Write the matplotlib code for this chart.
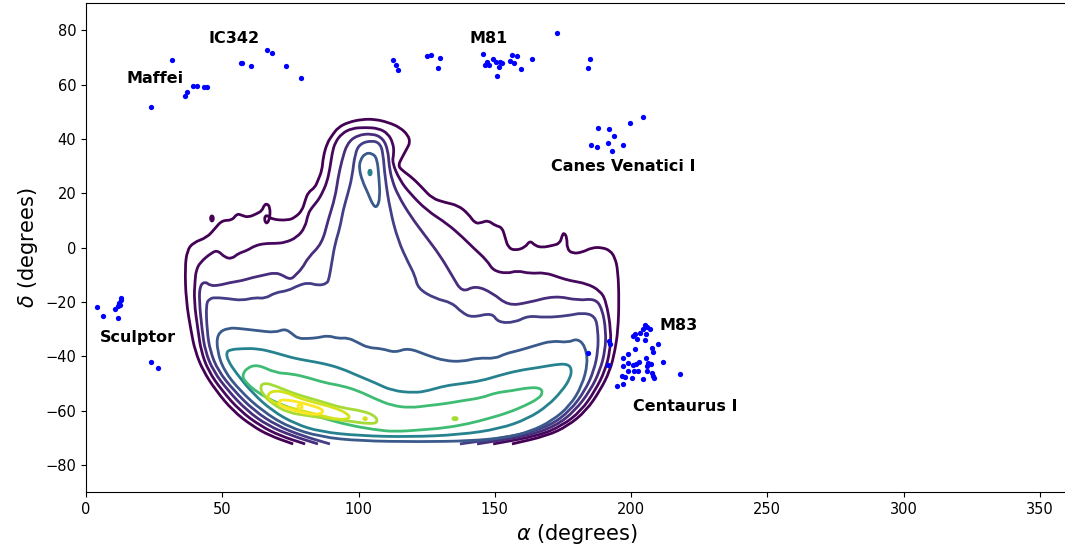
import numpy as np
import matplotlib
matplotlib.use('Agg')
import matplotlib.pyplot as plt
from matplotlib.path import Path
from matplotlib.patches import PathPatch

# ---- galaxy groups (alpha, delta in degrees) ----
group_alpha = [31.6, 23.9, 36.3, 37.1, 39.3, 40.7, 43.3, 44.4,
               56.9, 57.4, 60.6, 66.4, 68.3, 73.4, 78.9,
               112.7, 113.8, 114.5, 125.1, 126.6, 129.9, 129.2,
               145.7, 147.2, 146.4, 147.9, 149.4, 150.5, 151.9, 152.7, 151.6, 150.8,
               156.3, 158.2, 155.6, 157.1, 159.6, 163.7, 172.8, 185.0, 184.2,
               204.4, 199.6, 187.9, 191.9, 193.8, 191.6, 185.3, 187.5, 197.1, 193.0,
               4.0, 6.2, 10.6, 11.7, 12.1, 12.8, 12.8, 12.5, 11.7, 23.9, 26.4,
               205.1, 205.9, 207.0, 204.4, 203.3, 201.5, 200.7, 205.5, 202.2, 205.1,
               209.9, 207.7, 208.1, 201.5, 198.9, 197.1, 205.5, 202.9, 201.8, 200.7,
               198.9, 206.2, 207.3, 205.9, 211.7, 197.1, 198.9, 201.1, 202.6, 205.9,
               207.7, 208.1, 208.4, 196.7, 197.8, 204.4, 200.4, 197.1, 194.9, 218.0,
               191.6, 184.2, 192.3, 191.9]
group_delta = [68.9, 51.6, 55.7, 57.1, 59.4, 59.4, 59.0, 59.0,
               67.8, 67.8, 66.7, 72.6, 71.5, 66.7, 62.3,
               68.9, 67.1, 65.3, 70.4, 70.8, 69.7, 66.0,
               71.2, 68.2, 67.1, 67.1, 69.3, 68.2, 68.2, 67.8, 66.4, 63.0,
               70.8, 70.4, 68.6, 67.8, 65.6, 69.3, 78.9, 69.3, 66.0,
               47.9, 45.7, 43.9, 43.5, 40.9, 38.3, 37.6, 36.9, 37.6, 35.4,
               -21.8, -25.1, -22.5, -21.4, -20.6, -19.5, -18.4, -21.0, -25.8, -42.0, -44.2,
               -28.4, -29.1, -29.9, -29.9, -31.3, -31.7, -32.4, -31.7, -33.5, -33.9,
               -35.4, -36.9, -38.3, -37.2, -39.1, -40.6, -40.6, -42.0, -42.8, -43.1,
               -42.4, -42.4, -42.8, -43.5, -42.0, -43.5, -45.3, -45.3, -45.3, -45.3,
               -46.1, -47.2, -47.9, -47.2, -47.6, -48.3, -47.9, -50.1, -50.9, -46.5,
               -43.1, -38.7, -35.4, -34.3]

group_names = ['Maffei', 'IC342', 'M81', 'Canes Venatici I', 'Sculptor', 'M83', 'Centaurus I']
label_alpha = [15.0, 45.1, 140.9, 170.6, 5.1, 210.6, 200.7]
label_delta = [62.3, 77.0, 77.0, 29.9, -33.2, -28.8, -58.6]

level1 = [(76.0, -72.3), (67.5, -69.3), (60.9, -65.6), (53.9, -60.1), (47.7, -52.7), (42.9, -45.3),
          (40.0, -38.0), (38.5, -30.6), (36.7, -19.5), (36.3, -7.4), (37.1, -1.1), (39.3, 1.8),
          (44.4, 3.7), (47.3, 7.0), (49.9, 10.0), (53.6, 10.0), (55.4, 12.5), (57.3, 11.8),
          (59.5, 11.1), (62.8, 12.5), (64.6, 13.6), (65.3, 15.5), (66.4, 16.2), (67.5, 14.8),
          (67.5, 11.1), (66.4, 8.5), (65.3, 10.3), (66.1, 12.2), (68.3, 10.3), (74.1, 10.0),
          (76.7, 11.1), (79.3, 13.6), (80.4, 17.3), (81.5, 20.3), (84.0, 22.1), (85.1, 24.7),
          (86.6, 28.4), (87.0, 33.2), (88.4, 38.3), (90.3, 41.3), (92.5, 44.2), (96.2, 46.1),
          (101.3, 47.2), (106.1, 47.2), (110.8, 46.1), (115.2, 44.2), (118.2, 41.3), (118.9, 38.7),
          (117.8, 36.5), (116.0, 33.2), (114.5, 30.2), (116.0, 28.4), (119.6, 25.8), (123.3, 22.1),
          (127.0, 18.1), (131.7, 16.6), (136.5, 15.5), (140.2, 12.5), (142.8, 8.8), (145.3, 9.2),
          (147.5, 10.0), (150.1, 8.1), (152.7, 7.4), (153.8, 3.7), (154.9, 0.0), (157.4, -1.1),
          (161.1, 0.0), (162.9, 2.6), (164.8, 0.7), (167.3, 0.0), (171.0, 0.7), (173.9, 1.5),
          (174.7, 4.4), (175.4, 5.5), (176.5, 3.7), (176.5, -0.4), (178.4, -2.2), (182.0, -1.8),
          (185.7, 0.0), (189.4, 0.0), (192.3, -1.1), (194.1, -3.7), (195.2, -8.5), (195.6, -19.5),
          (195.2, -30.6), (194.1, -38.0), (192.3, -45.3), (188.6, -52.7), (183.5, -60.1),
          (176.9, -65.6), (169.2, -69.3), (156.3, -72.3)]
level1_island = [(45.5, 10.7), (46.2, 12.0), (46.9, 10.7), (46.2, 9.4), (45.5, 10.7)]

level2 = [(80.4, -72.3), (71.2, -69.3), (63.9, -65.6), (56.5, -60.1), (49.9, -52.7), (44.8, -45.3),
          (42.2, -38.0), (41.1, -30.6), (39.6, -19.5), (40.0, -12.0), (40.4, -8.5), (41.8, -5.5),
          (46.2, -1.8), (48.4, -1.1), (51.0, -3.7), (53.6, -4.1), (55.8, -2.2), (59.1, -1.1),
          (62.0, 0.7), (65.7, 1.5), (69.4, 1.5), (73.0, 1.8), (77.4, 3.7), (80.4, 7.4), (81.5, 12.5),
          (82.9, 14.7), (85.1, 17.3), (86.6, 19.9), (88.4, 24.0), (89.5, 29.1), (90.3, 34.7),
          (91.4, 38.7), (93.9, 42.0), (97.6, 43.9), (102.4, 44.2), (107.2, 43.9), (110.8, 42.0),
          (112.7, 38.3), (113.0, 34.7), (112.3, 31.3), (115.2, 24.7), (118.9, 19.9), (125.1, 13.6),
          (132.5, 8.8), (138.3, 3.7), (142.0, 0.0), (147.2, -4.8), (149.4, -8.5), (154.5, -9.6),
          (158.2, -8.5), (162.9, -9.6), (168.4, -9.2), (173.9, -11.1), (177.6, -12.2), (183.9, -13.3),
          (188.6, -15.9), (190.8, -19.5), (192.7, -30.6), (192.3, -38.0), (190.5, -45.3),
          (186.8, -52.7), (181.7, -60.1), (174.7, -65.6), (165.9, -69.3), (149.4, -72.3)]

level3 = [(85.1, -72.3), (75.6, -69.3), (66.8, -65.6), (59.1, -60.1), (52.1, -52.7), (46.6, -45.3),
          (43.7, -38.0), (42.6, -30.6), (41.5, -19.5), (41.8, -14.0), (43.7, -12.5), (45.5, -14.0),
          (48.4, -14.0), (52.8, -12.9), (57.2, -12.2), (60.9, -11.1), (64.6, -10.3), (69.4, -9.2),
          (72.3, -10.3), (74.1, -11.4), (75.6, -11.4), (76.7, -10.3), (79.3, -7.7), (81.5, -3.7),
          (86.6, 1.5), (88.8, 10.0), (91.4, 18.4), (92.5, 25.8), (93.9, 32.1), (95.8, 38.3),
          (99.4, 41.3), (105.0, 42.0), (109.0, 40.2), (110.8, 35.8), (111.2, 30.2), (112.3, 24.7),
          (114.5, 19.2), (118.9, 11.8), (124.4, 4.4), (129.9, -2.9), (134.3, -10.3), (138.0, -16.6),
          (142.8, -14.0), (149.0, -16.6), (154.9, -21.4), (162.2, -20.3), (172.1, -17.7),
          (180.6, -19.5), (186.8, -18.8), (189.4, -22.5), (190.8, -30.6), (190.5, -38.0),
          (188.6, -45.3), (185.0, -52.7), (179.4, -60.1), (172.5, -65.6), (162.2, -69.3), (143.5, -72.3)]

level4 = [(89.5, -72.3), (79.3, -69.3), (70.1, -65.6), (61.7, -60.1), (54.3, -52.7), (48.4, -45.3),
          (45.5, -38.0), (44.4, -30.6), (44.0, -20.6), (45.5, -18.8), (47.3, -18.4), (52.1, -18.8),
          (57.2, -19.5), (62.0, -18.4), (65.7, -18.8), (69.4, -16.6), (74.1, -15.9), (77.8, -14.0),
          (81.5, -12.9), (85.1, -14.0), (88.4, -13.3), (89.2, -11.4), (90.3, -4.8), (91.4, 1.5),
          (93.2, 7.4), (94.3, 13.6), (96.1, 19.9), (97.6, 25.8), (98.7, 34.7), (100.6, 38.3),
          (105.0, 39.4), (107.9, 38.3), (109.0, 34.7), (109.7, 25.8), (111.6, 13.6), (114.5, 2.6),
          (118.2, -5.5), (120.7, -10.3), (121.8, -15.1), (128.1, -18.8), (134.3, -20.3),
          (138.0, -24.0), (141.7, -25.8), (149.0, -24.0), (151.2, -27.6), (157.4, -27.6),
          (162.2, -25.1), (168.4, -25.8), (176.9, -25.1), (182.0, -24.0), (186.8, -25.1),
          (187.9, -30.6), (187.9, -38.0), (186.4, -45.3), (183.1, -52.7), (177.6, -60.1),
          (170.3, -65.6), (158.5, -69.3), (137.2, -72.3)]

level5 = [(48.1, -31.7), (52.1, -29.5), (57.2, -29.9), (63.1, -30.6), (69.4, -31.3), (73.0, -29.9),
          (75.6, -31.7), (77.8, -33.5), (81.5, -33.5), (85.1, -33.2), (88.8, -32.4), (92.5, -33.5),
          (96.1, -33.2), (99.8, -35.0), (103.5, -36.9), (108.6, -37.2), (113.4, -38.7), (118.2, -36.9),
          (125.5, -39.8), (131.7, -41.7), (138.0, -42.0), (143.9, -40.6), (150.1, -40.9),
          (153.8, -39.1), (158.5, -38.0), (164.8, -36.1), (171.0, -34.3), (176.9, -35.0),
          (180.2, -33.5), (183.1, -36.1), (184.2, -42.4), (182.0, -50.9), (177.6, -58.2),
          (171.0, -63.8), (162.9, -67.8), (153.8, -70.0), (140.9, -71.2), (122.6, -71.5),
          (100.6, -71.2), (85.9, -69.7), (74.1, -66.0), (64.6, -60.1), (56.5, -52.7), (50.6, -45.3),
          (48.1, -38.0), (48.1, -31.7)]
level5_peak = [(100.6, 32.1), (102.4, 34.7), (105.0, 34.7), (106.8, 32.8), (107.5, 25.8), (107.9, 18.4),
               (106.8, 14.7), (105.3, 15.5), (103.5, 19.9), (101.3, 24.7), (100.2, 29.1), (100.6, 32.1)]

level6 = [(51.4, -38.7), (52.8, -37.6), (57.2, -37.2), (63.1, -37.2), (69.4, -38.7), (75.6, -40.6),
          (81.5, -41.7), (87.7, -42.8), (93.9, -44.6), (99.8, -47.2), (106.1, -49.8), (112.3, -52.7),
          (120.7, -53.5), (125.5, -52.7), (131.7, -50.9), (138.0, -50.1), (145.3, -49.0),
          (151.2, -47.2), (158.5, -45.3), (165.9, -44.2), (172.1, -43.1), (176.5, -42.8),
          (178.3, -44.6), (177.6, -48.3), (174.7, -52.7), (169.5, -58.2), (162.2, -63.0),
          (151.9, -66.7), (137.2, -68.9), (118.9, -69.7), (100.6, -69.3), (85.9, -67.8),
          (76.7, -64.9), (68.3, -60.1), (61.0, -53.5), (55.0, -46.1), (52.1, -41.7), (51.4, -38.7)]
level6_peak = [(103.6, 27.6), (104.2, 28.8), (104.8, 27.6), (104.2, 26.4), (103.6, 27.6)]

level7 = [(57.2, -47.2), (59.1, -44.2), (63.1, -43.1), (69.4, -46.1), (75.6, -46.5), (81.5, -47.9),
          (87.7, -49.8), (93.9, -50.9), (99.8, -52.7), (106.1, -55.7), (112.3, -58.2), (118.9, -59.0),
          (125.5, -58.2), (131.7, -57.5), (138.0, -56.4), (145.3, -55.3), (150.1, -53.5),
          (156.3, -52.7), (162.2, -51.6), (166.6, -51.6), (167.7, -53.5), (165.9, -55.7),
          (161.1, -58.2), (154.9, -60.8), (147.5, -63.0), (140.2, -64.9), (131.7, -66.4),
          (123.3, -67.1), (113.4, -67.8), (106.1, -67.1), (96.1, -65.3), (87.7, -63.0),
          (79.3, -60.5), (70.5, -57.5), (63.1, -53.5), (58.7, -49.8), (57.2, -47.2)]

level8 = [(63.9, -50.9), (65.7, -49.8), (69.4, -50.9), (75.6, -53.5), (81.5, -55.3), (87.7, -57.1),
          (93.9, -59.0), (101.3, -60.1), (106.1, -61.9), (107.2, -64.5), (103.5, -64.9), (96.1, -63.8),
          (88.8, -63.0), (81.5, -61.9), (74.1, -60.8), (68.3, -57.5), (64.6, -53.8), (63.9, -50.9)]
level8_spot = [(134.3, -63.0), (135.4, -62.4), (136.5, -63.0), (135.4, -63.6), (134.3, -63.0)]

level9 = [(66.4, -54.6), (68.3, -52.7), (73.0, -53.1), (77.8, -55.3), (84.0, -57.1), (91.4, -59.0),
          (96.1, -61.2), (96.9, -63.0), (92.5, -63.4), (86.6, -61.9), (79.3, -60.1), (71.9, -58.2),
          (67.5, -56.4), (66.4, -54.6)]
level9_spot = [(101.7, -63.0), (102.4, -62.5), (103.1, -63.0), (102.4, -63.5), (101.7, -63.0)]

level10 = [(70.5, -56.4), (73.0, -56.0), (77.8, -56.8), (82.9, -58.2), (86.6, -59.4), (87.0, -60.8),
           (84.0, -61.6), (79.3, -60.8), (74.1, -59.4), (71.2, -58.2), (70.5, -56.4)]
level10_core = [(77.4, -58.6), (78.5, -57.5), (79.6, -58.6), (78.5, -59.7), (77.4, -58.6)]

level_colors = ['#440154', '#46085c', '#472d7b', '#433e85', '#3a5a8c',
                '#26828e', '#3fbc73', '#a5db36', '#d2e21b', '#fde725']
contours = [(level1, 0), (level1_island, 0), (level2, 1), (level3, 2), (level4, 3),
            (level5, 4), (level5_peak, 4), (level6, 5), (level6_peak, 5), (level7, 6),
            (level8, 7), (level8_spot, 7), (level9, 8), (level9_spot, 8),
            (level10, 9), (level10_core, 9)]


def smooth_path(pts):
    # quadratic bezier through the midpoints, traced vertices act as control points
    p = np.asarray(pts, dtype=float)
    if np.allclose(p[0], p[-1]):
        p = p[:-1]
        mids = (p + np.roll(p, -1, axis=0)) / 2
        verts = [mids[-1]]
        codes = [Path.MOVETO]
        for i in range(len(p)):
            verts += [p[i], mids[i]]
            codes += [Path.CURVE3, Path.CURVE3]
    else:
        mids = (p[:-1] + p[1:]) / 2
        verts = [p[0], mids[0]]
        codes = [Path.MOVETO, Path.LINETO]
        for i in range(1, len(p) - 1):
            verts += [p[i], mids[i]]
            codes += [Path.CURVE3, Path.CURVE3]
        verts.append(p[-1])
        codes.append(Path.LINETO)
    return Path(verts, codes)


fig = plt.figure(figsize=(10.65, 5.47), dpi=100)
ax = fig.add_axes([0.0808, 0.1005, 0.9211, 0.894])

for pts, lev in contours:
    ax.add_patch(PathPatch(smooth_path(pts), fill=False, edgecolor=level_colors[lev],
                           lw=2.0, joinstyle='round', capstyle='butt', zorder=2))

ax.plot(group_alpha, group_delta, 'o', color='blue', ms=3.8, mec='none', zorder=3)

for name, a, d in zip(group_names, label_alpha, label_delta):
    ax.text(a, d, name, fontsize=11.5, fontweight='bold', ha='left', va='center', zorder=4)

ax.set_xlim(0, 360)
ax.set_ylim(-90, 90)
ax.set_xticks(np.arange(0, 351, 50))
ax.set_yticks(np.arange(-80, 81, 20))
ax.tick_params(labelsize=10.5)
ax.set_xlabel(r'$\alpha$ (degrees)', fontsize=15)
ax.set_ylabel(r'$\delta$ (degrees)', fontsize=15)

fig.savefig('out.png', dpi=100)
